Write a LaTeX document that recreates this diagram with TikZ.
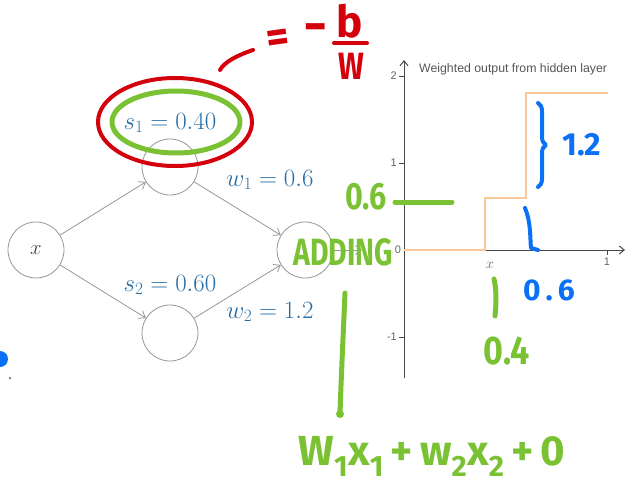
\documentclass[tikz,border=0pt]{standalone}
\usepackage{fontspec}
\usepackage{amsmath}
\usepackage{tikz}
\usetikzlibrary{
  arrows.meta,
  decorations.pathreplacing,
  positioning
}
\newfontfamily\plotfont{Liberation Sans}
\newfontfamily\handfont{Fira Sans}
\definecolor{labblue}{RGB}{40,110,165}
\definecolor{edgegray}{RGB}{150,150,150}
\definecolor{axisgray}{RGB}{70,70,70}
\definecolor{tickgray}{RGB}{100,100,100}
\definecolor{titlegray}{RGB}{85,85,85}
\definecolor{steporange}{RGB}{250,200,150}
\definecolor{penred}{RGB}{212,0,12}
\definecolor{pengreen}{RGB}{122,194,52}
\definecolor{penblue}{RGB}{10,112,245}
\tikzset{
  neuron/.style={circle,draw=edgegray,line width=0.8pt,minimum size=56pt,
    inner sep=0pt,font=\fontsize{20}{24}\selectfont,text=axisgray},
  conn/.style={-{Straight Barb[length=6pt,width=9pt]},line width=0.8pt,draw=edgegray},
  wlab/.style={text=labblue,font=\fontsize{26}{30}\selectfont,inner sep=0pt},
  axisline/.style={-{Straight Barb[length=5pt,width=8pt]},line width=1pt,draw=axisgray},
  tickline/.style={line width=0.8pt,draw=axisgray},
  ticklab/.style={font=\plotfont\fontsize{11}{13}\selectfont,text=tickgray,inner sep=0pt},
  stepline/.style={line width=1.5pt,draw=steporange},
  redpen/.style={line width=4pt,draw=penred,line cap=round,line join=round},
  greenpen/.style={line width=5pt,draw=pengreen,line cap=round,line join=round},
  bluepen/.style={line width=4pt,draw=penblue,line cap=round,line join=round},
  hand/.style={font=\handfont\bfseries\fontsize{#1}{#1}\selectfont,inner sep=0pt}
}

\begin{document}
\begin{tikzpicture}[x=1pt,y=-1pt,node distance=83pt and 134pt,on grid]
  \useasboundingbox (0,0) rectangle (625,485);
  % network
  \node[neuron] (x) at (36,250) {\(x\)};
  \node[neuron,above right=of x] (h1) {};
  \node[neuron,below right=of x] (h2) {};
  \node[neuron,right=269pt of x] (out) {};
  \coordinate (outend) at (362,250);
  \draw[conn] (x)--(h1);
  \draw[conn] (x)--(h2);
  \draw[conn] (h1)--(out);
  \draw[conn] (h2)--(out);
  \draw[conn] (out)--(outend);
  \node[wlab] (s1) at (170,123) {\(s_1=0.40\)};
  \node[wlab] (w1) at (270,180) {\(w_1=0.6\)};
  \node[wlab] (s2) at (170,285) {\(s_2=0.60\)};
  \node[wlab] (w2) at (270,312) {\(w_2=1.2\)};
  % plot
  \coordinate (O) at (404,250);
  \coordinate (ytop) at (404,60);
  \coordinate (ybot) at (404,378);
  \coordinate (xend) at (625,250);
  \draw[axisline] (O)--(xend);
  \draw[axisline] (ybot)--(ytop);
  \foreach \v/\py in {2/76,1/163,-1/337}{
    \draw[tickline] (399,\py)--(404,\py);
    \node[ticklab,anchor=east] (yt\py) at (397,\py) {\v};
  }
  \node[ticklab] (yt0) at (398,250) {0};
  \draw[tickline] (607,250)--(607,255);
  \node[ticklab] (xt1) at (607,262) {1};
  \node[text=tickgray,font=\fontsize{15}{18}\selectfont,inner sep=0pt] (xlab) at (490,265) {\(x\)};
  \node[font=\plotfont\fontsize{12.3}{14}\selectfont,text=titlegray,anchor=west,inner sep=0pt]
    (title) at (419,69) {Weighted output from hidden layer};
  \draw[stepline] (O)--(485,250)--(485,198)--(526,198)--(526,93)--(608,93);
  % red notes
  \draw[redpen] (175,122) ellipse (77 and 44);
  \draw[redpen] (220,70) .. controls (224,62) and (238,55) .. (253,50);
  \node[hand=44,text=penred,rotate=8] (eq) at (278,41) {=};
  \node[hand=28,text=penred] (minus) at (316,33) {\scalebox{1.4}[1.8]{–}};
  \node[hand=44,text=penred] (b) at (350,21) {b};
  \draw[redpen] (334,43)--(367,43);
  \node[hand=38,text=penred] (W) at (351,66) {\scalebox{0.8}[1]{W}};
  % green notes
  \draw[greenpen] (176,122) ellipse (64 and 31);
  \node[hand=38,text=pengreen] (g06) at (366,197) {\scalebox{0.8}[1]{0.6}};
  \draw[greenpen] (395,202)--(452,202);
  \node[hand=38,text=pengreen] (adding) at (343,252) {\scalebox{0.75}[1]{ADDING}};
  \draw[greenpen] (345,293) .. controls (343,340) and (341,380) .. (340,415);
  \fill[pengreen] (340,414) circle (4);
  \draw[greenpen] (494,279) .. controls (497,292) and (496,305) .. (495,316);
  \node[hand=40,text=pengreen] (g04) at (507,351) {\scalebox{0.85}[1]{0.4}};
  \node[hand=42,text=pengreen,anchor=base] (sum) at (432,465)
    {W\textsubscript{1}x\textsubscript{1}\,+\,w\textsubscript{2}x\textsubscript{2}\,+\,0};
  % blue notes
  \draw[bluepen,decorate,decoration={brace,amplitude=8pt}] (538,103)--(538,187);
  \node[hand=32,text=penblue] (b12) at (582,145) {1.2};
  \draw[bluepen] (525,208) .. controls (531,222) and (530,238) .. (531,248) -- (538,250);
  \node[hand=30,text=penblue] (b06) at (549,290) {0\,.\,6};
  \fill[penblue] (0,359) circle (8);
  \fill[black!80] (10,378) circle (1);
\end{tikzpicture}
\end{document}
